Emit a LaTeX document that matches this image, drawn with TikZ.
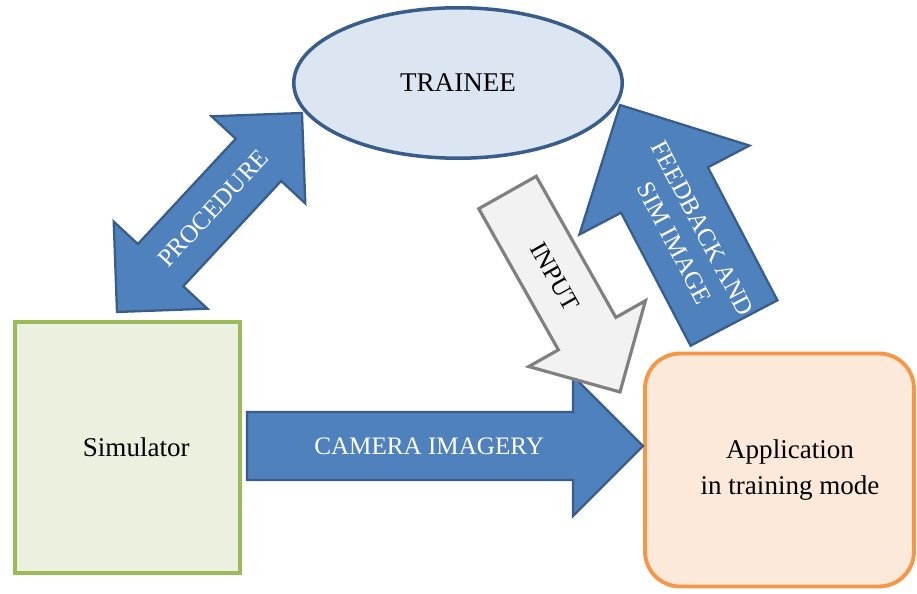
\documentclass[tikz,border=0pt]{standalone}
\usepackage{fontspec}
\setmainfont{Liberation Serif}
\usepackage{tikz}
\usetikzlibrary{calc,shapes.geometric}

\definecolor{arrowblue}{HTML}{4F81BD}
\definecolor{arrowline}{HTML}{385D8A}
\definecolor{traineefill}{HTML}{DCE6F2}
\definecolor{simfill}{HTML}{EBF1DE}
\definecolor{simline}{HTML}{9BBB59}
\definecolor{appfill}{HTML}{FDE9D9}
\definecolor{appline}{HTML}{F79646}
\definecolor{inputfill}{HTML}{F2F2F2}
\definecolor{inputline}{HTML}{808080}

% block arrow: style, tail, tip, half shaft, half head, head length
\newcommand{\onearrow}[6]{%
  \coordinate (#2-base) at ($(#3)!#6!(#2)$);
  \draw[#1] ($(#2)!#4!90:(#3)$) -- ($(#2-base)!#4!90:(#3)$) -- ($(#2-base)!#5!90:(#3)$)
    -- (#3) -- ($(#2-base)!#5!-90:(#3)$) -- ($(#2-base)!#4!-90:(#3)$)
    -- ($(#2)!#4!-90:(#3)$) -- cycle;}
% same with a head at both ends
\newcommand{\twoarrow}[6]{%
  \coordinate (#2-base) at ($(#2)!#6!(#3)$);
  \coordinate (#3-base) at ($(#3)!#6!(#2)$);
  \draw[#1] (#2) -- ($(#2-base)!#5!90:(#3)$) -- ($(#2-base)!#4!90:(#3)$)
    -- ($(#3-base)!#4!90:(#3)$) -- ($(#3-base)!#5!90:(#3)$) -- (#3)
    -- ($(#3-base)!#5!-90:(#3)$) -- ($(#3-base)!#4!-90:(#3)$)
    -- ($(#2-base)!#4!-90:(#3)$) -- ($(#2-base)!#5!-90:(#3)$) -- cycle;}

\begin{document}
\begin{tikzpicture}[x=0.02cm,y=-0.02cm,
    box/.style={draw,line width=2.2pt,align=center,font=\fontsize{15.4}{21}\selectfont},
    blue arrow/.style={fill=arrowblue,draw=arrowline,line width=1.3pt},
    grey arrow/.style={fill=inputfill,draw=inputline,line width=1.8pt},
    arrow text/.style={sloped,text=white,align=center,font=\fontsize{14.3}{18}\selectfont}]
    \useasboundingbox (0,0) rectangle (917,594);

    % blocks
    \node[box,ellipse,line width=2pt,draw=arrowline,fill=traineefill,
          minimum width=6.57cm,minimum height=3.01cm] (trainee) at (458,83) {TRAINEE};
    \node[box,draw=simline,fill=simfill,minimum width=4.5cm,minimum height=5.02cm]
          (sim) at (127.5,447.5) {\hspace{10pt}Simulator};
    \node[box,draw=appline,fill=appfill,rounded corners=0.7cm,
          minimum width=5.38cm,minimum height=4.66cm] (app) at (779.5,470)
          {\hspace{12pt}Application\\\hspace{12pt}in training mode};

    % camera imagery
    \coordinate (cam-tail) at (247,446);
    \coordinate (cam-tip) at (643,446);
    \onearrow{blue arrow}{cam-tail}{cam-tip}{0.68cm}{1.4cm}{1.4cm}
    \path (cam-tail) -- (cam-tip) node[arrow text,pos=.46] (cam-label) {CAMERA IMAGERY};

    % input
    \coordinate (in-tail) at (507.5,192.5);
    \coordinate (in-tip) at (620,392);
    \onearrow{grey arrow}{in-tail}{in-tip}{0.66cm}{1.34cm}{1.34cm}
    \path (in-tail) -- (in-tip) node[arrow text,text=black,pos=.42] (in-label) {INPUT};

    % feedback
    \coordinate (fb-tail) at (734,323);
    \coordinate (fb-tip) at (620,105);
    \onearrow{blue arrow}{fb-tail}{fb-tip}{0.98cm}{1.92cm}{1.92cm}
    \path (fb-tail) -- (fb-tip) node[arrow text,pos=.4] (fb-label) {FEEDBACK AND\\SIM IMAGE};

    % procedure
    \coordinate (proc-a) at (117,312);
    \coordinate (proc-b) at (302,113);
    \twoarrow{blue arrow}{proc-a}{proc-b}{0.62cm}{1.28cm}{1.28cm}
    \path (proc-a) -- (proc-b) node[arrow text,pos=.52] (proc-label) {PROCEDURE};
\end{tikzpicture}
\end{document}
